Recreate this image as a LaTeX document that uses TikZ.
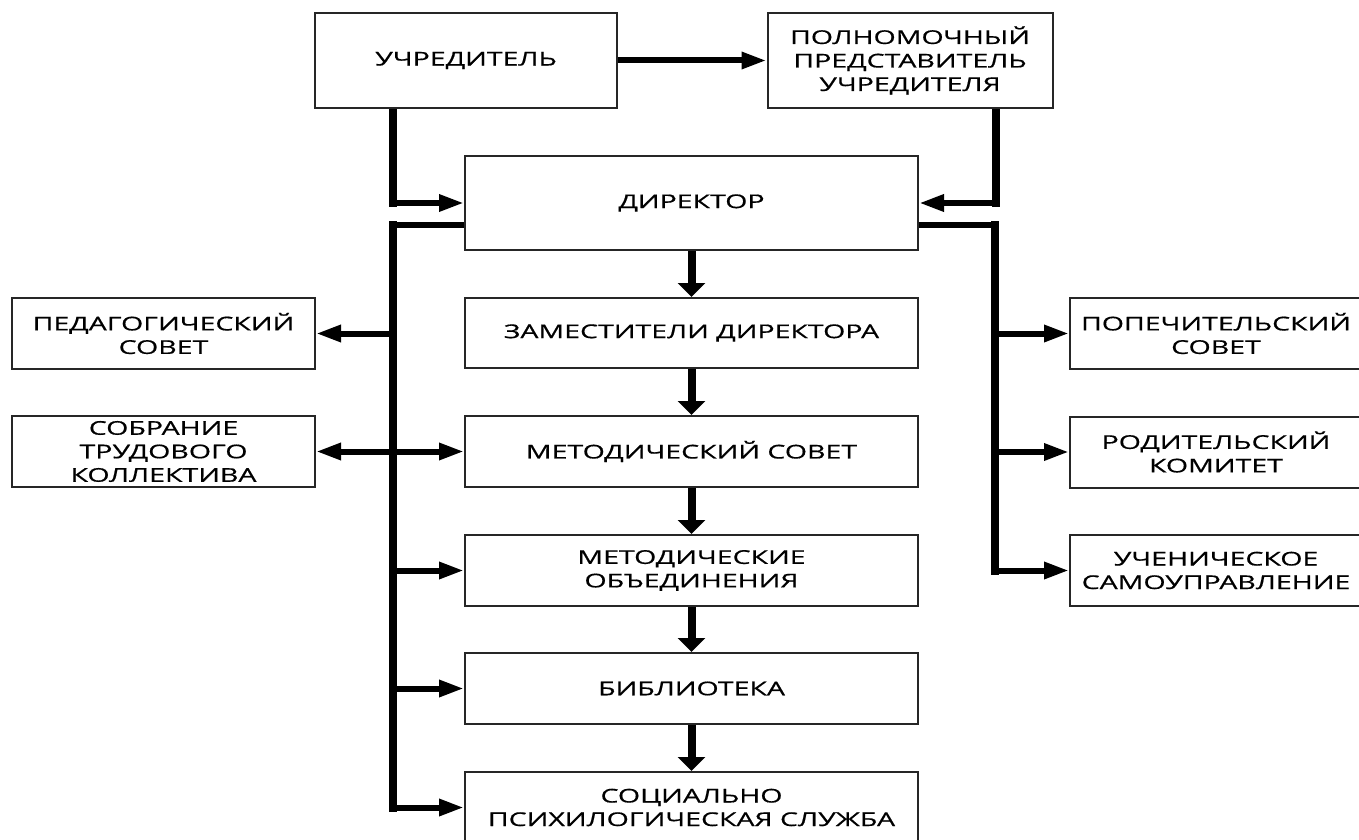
\documentclass[tikz,border=0pt]{standalone}
\usepackage{fontspec}
\setmainfont{Open Sans}[FakeStretch=1.5,FakeBold=0.6]
\usetikzlibrary{arrows.meta}
\pgfdeclarelayer{bg}
\pgfsetlayers{bg,main}
\begin{document}
\begin{tikzpicture}[x=1pt,y=-1pt,
  box/.style={draw=black!85, line width=2pt, fill=white, inner sep=0pt, align=center,
    font=\fontsize{19}{23.5}\selectfont, text=black},
  hline/.style={line width=6pt},
  vline/.style={line width=8pt, line cap=rect},
  htip/.tip={Triangle[length=25pt,width=16pt]},
  vtip/.tip={Triangle[length=14pt,width=27pt]},
  harr/.style={-htip, line width=6pt},
  harrb/.style={htip-htip, line width=6pt},
  varr/.style={-vtip, line width=8pt},
]
\useasboundingbox (0,0) rectangle (1359,840);

% boxes
\node[box, minimum width=302pt, minimum height=95pt] (u) at (466,60.5) {УЧРЕДИТЕЛЬ};
\node[box, minimum width=285pt, minimum height=95pt] (p) at (910,60.5) {ПОЛНОМОЧНЫЙ\\ПРЕДСТАВИТЕЛЬ\\УЧРЕДИТЕЛЯ};
\node[box, minimum width=453pt, minimum height=94pt] (d) at (691.5,203) {ДИРЕКТОР};
\node[box, minimum width=453pt, minimum height=70pt] (z) at (691.5,333) {ЗАМЕСТИТЕЛИ ДИРЕКТОРА};
\node[box, minimum width=453pt, minimum height=71pt] (ms) at (691.5,451.5) {МЕТОДИЧЕСКИЙ СОВЕТ};
\node[box, minimum width=453pt, minimum height=71pt] (mo) at (691.5,570.5) {МЕТОДИЧЕСКИЕ\\ОБЪЕДИНЕНИЯ};
\node[box, minimum width=453pt, minimum height=71pt] (b) at (691.5,688.5) {БИБЛИОТЕКА};
\node[box, minimum width=453pt, minimum height=71pt] (s) at (691.5,807.5) {СОЦИАЛЬНО\\ПСИХИЛОГИЧЕСКАЯ СЛУЖБА};
\node[box, minimum width=303pt, minimum height=71pt] (ped) at (163.5,333.5) {ПЕДАГОГИЧЕСКИЙ\\СОВЕТ};
\node[box, minimum width=303pt, minimum height=71pt] (sob) at (163.5,451.5) {СОБРАНИЕ\\ТРУДОВОГО\\КОЛЛЕКТИВА};
\node[box, minimum width=292pt, minimum height=71pt] (pop) at (1216,333.5) {ПОПЕЧИТЕЛЬСКИЙ\\СОВЕТ};
\node[box, minimum width=292pt, minimum height=71pt] (rod) at (1216,452) {РОДИТЕЛЬСКИЙ\\КОМИТЕТ};
\node[box, minimum width=292pt, minimum height=71pt] (uch) at (1216,570.5) {УЧЕНИЧЕСКОЕ\\САМОУПРАВЛЕНИЕ};

% corner coordinates
\coordinate (ul) at (393,203);
\coordinate (pr) at (996,203);
\coordinate (lt) at (393,225);
\coordinate (lb) at (393,807.5);
\coordinate (rt) at (995,225);
\coordinate (rb) at (995,570.5);

\begin{pgfonlayer}{bg}
  \fill[white] (0,0) rectangle (1359,840);
  % top
  \draw[harr] (u.east) -- (p.west);
  \draw[vline] (u.south -| ul) -- (ul);
  \draw[harr] (ul) -- (d.west |- ul);
  \draw[vline] (p.south -| pr) -- (pr);
  \draw[harr] (pr) -- (d.east |- pr);
  % left bus
  \draw[hline] (d.west |- lt) -- (lt);
  \draw[vline] (lt) -- (lb);
  \draw[harr] (lt |- ped.east) -- (ped.east);
  \draw[harrb] (sob.east) -- (ms.west);
  \draw[harr] (lt |- mo.west) -- (mo.west);
  \draw[harr] (lt |- b.west) -- (b.west);
  \draw[harr] (lb) -- (s.west |- lb);
  % right bus
  \draw[hline] (d.east |- rt) -- (rt);
  \draw[vline] (rt) -- (rb);
  \draw[harr] (rt |- pop.west) -- (pop.west);
  \draw[harr] (rt |- rod.west) -- (rod.west);
  \draw[harr] (rb) -- (uch.west |- rb);
  % centre chain
  \draw[varr] (d.south) -- (z.north);
  \draw[varr] (z.south) -- (ms.north);
  \draw[varr] (ms.south) -- (mo.north);
  \draw[varr] (mo.south) -- (b.north);
  \draw[varr] (b.south) -- (s.north);
\end{pgfonlayer}
\end{tikzpicture}
\end{document}
